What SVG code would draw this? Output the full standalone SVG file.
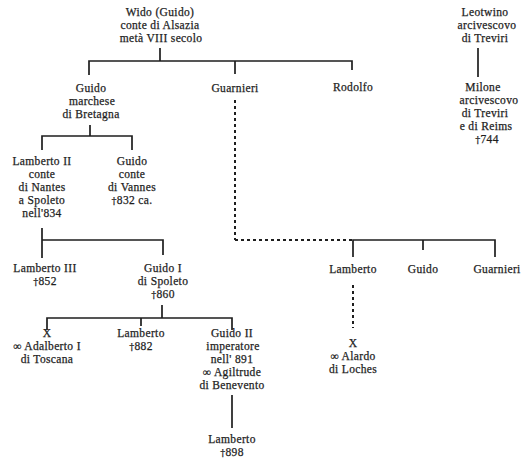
<svg xmlns="http://www.w3.org/2000/svg" width="521" height="463" viewBox="0 0 521 463">
<style>
text{font-family:"Liberation Serif","Times New Roman",serif;font-size:11.5px;letter-spacing:0.35px;fill:#1e1e1e;stroke:#1e1e1e;stroke-width:0.25;text-anchor:middle}
.dg{font-family:"DejaVu Serif","Liberation Serif",serif;font-size:10px}
.l{stroke:#1e1e1e;stroke-width:1.7;fill:none}
.d{stroke:#1e1e1e;stroke-width:2;fill:none;stroke-dasharray:3 3}
</style>
<rect width="521" height="463" fill="#fff"/>
<g id="connectors">
<path class="l" d="M160 48V61M89 75V61H352V70M235 61V74"/>
<path class="l" d="M478 48V77"/>
<path class="l" d="M90 125V136M42 150V136H132V150"/>
<path class="l" d="M42 228V258M42 240H163V255"/>
<path class="l" d="M162 305V318M47 330V318H232V330M141 318V326"/>
<path class="l" d="M232 395V428"/>
<path class="d" d="M235 100V240"/>
<path class="d" d="M235 240H353"/>
<path class="l" d="M353 257V240H495V257M423 240V250"/>
<path class="d" d="M353 285V328"/>
</g>
<g id="wido"><text x="160" y="16">Wido (Guido)</text><text x="160" y="29">conte di Alsazia</text><text x="161" y="42">metà VIII secolo</text></g>
<g id="leotwino"><text x="485" y="16">Leotwino</text><text x="487" y="29">arcivescovo</text><text x="485" y="42">di Treviri</text></g>
<g id="milone"><text x="483" y="91">Milone</text><text x="489" y="104">arcivescovo</text><text x="485" y="117">di Treviri</text><text x="486" y="130">e di Reims</text><text x="487" y="143"><tspan class="dg">†</tspan>744</text></g>
<g id="guido-marchese"><text x="91" y="92">Guido</text><text x="92" y="105">marchese</text><text x="91" y="118">di Bretagna</text></g>
<g id="guarnieri"><text x="235" y="92">Guarnieri</text></g>
<g id="rodolfo"><text x="353" y="91">Rodolfo</text></g>
<g id="lamberto-ii"><text x="42" y="165">Lamberto II</text><text x="42" y="178">conte</text><text x="42" y="191">di Nantes</text><text x="42" y="204">a Spoleto</text><text x="42" y="217">nell'834</text></g>
<g id="guido-vannes"><text x="132" y="165">Guido</text><text x="132" y="178">conte</text><text x="132" y="191">di Vannes</text><text x="132" y="204"><tspan class="dg">†</tspan>832 ca.</text></g>
<g id="lamberto-iii"><text x="45" y="272">Lamberto III</text><text x="45" y="285"><tspan class="dg">†</tspan>852</text></g>
<g id="guido-i"><text x="163" y="272">Guido I</text><text x="163" y="285">di Spoleto</text><text x="163" y="298"><tspan class="dg">†</tspan>860</text></g>
<g id="x-adalberto"><text x="47" y="337">X</text><text x="47" y="350">∞ Adalberto I</text><text x="47" y="363">di Toscana</text></g>
<g id="lamberto-882"><text x="141" y="337">Lamberto</text><text x="141" y="350"><tspan class="dg">†</tspan>882</text></g>
<g id="guido-ii"><text x="232" y="337">Guido II</text><text x="233" y="350">imperatore</text><text x="232" y="363">nell' 891</text><text x="232" y="376">∞ Agiltrude</text><text x="232" y="389">di Benevento</text></g>
<g id="lamberto-898"><text x="232" y="443">Lamberto</text><text x="232" y="456"><tspan class="dg">†</tspan>898</text></g>
<g id="lamberto-r"><text x="353" y="273">Lamberto</text></g>
<g id="guido-r"><text x="423" y="273">Guido</text></g>
<g id="guarnieri-r"><text x="497" y="273">Guarnieri</text></g>
<g id="x-alardo"><text x="353" y="347">X</text><text x="353" y="360">∞ Alardo</text><text x="353" y="373">di Loches</text></g>
</svg>
